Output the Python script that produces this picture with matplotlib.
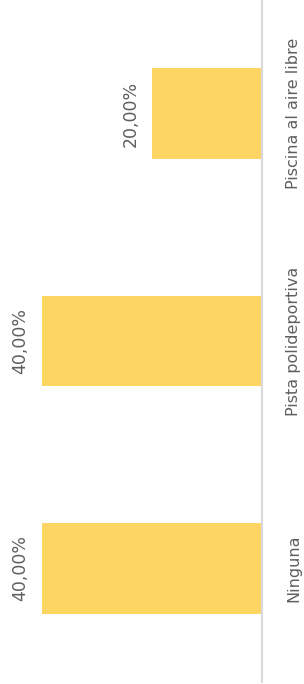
import matplotlib
matplotlib.use("Agg")
import matplotlib.pyplot as plt

categories = ["Ninguna", "Pista polideportiva", "Piscina al aire libre"]
values = [40.0, 40.0, 20.0]
value_labels = ["40,00%", "40,00%", "20,00%"]

bar_color = "#fcd563"
text_color = "#5f5f5f"
line_color = "#d9d9d9"

fig = plt.figure(figsize=(3.04, 6.84), dpi=100)
ax = fig.add_axes([0.0, 0.003, 262 / 304, 0.997])

y = range(len(categories))
ax.barh(y, values, height=0.4, color=bar_color)

# values grow to the left, baseline on the right
ax.set_xlim(47.6, 0)
ax.set_ylim(-0.5, 2.5)

for i, (v, lab) in enumerate(zip(values, value_labels)):
    ax.annotate(lab, xy=(v, i), xytext=(-9, 0), textcoords="offset points",
                rotation=90, ha="right", va="center",
                fontsize=12.5, color=text_color)

for side in ["top", "left", "bottom"]:
    ax.spines[side].set_visible(False)
ax.spines["right"].set_color(line_color)
ax.spines["right"].set_linewidth(1.5)

ax.set_xticks([])
ax.yaxis.set_ticks_position("right")
ax.set_yticks(list(y))
ax.set_yticklabels(categories)
ax.tick_params(axis="y", length=0, pad=17.5, labelsize=11.5, labelcolor=text_color)
plt.setp(ax.get_yticklabels(), rotation=90, va="center", ha="left")

fig.savefig("out.png", dpi=100)
